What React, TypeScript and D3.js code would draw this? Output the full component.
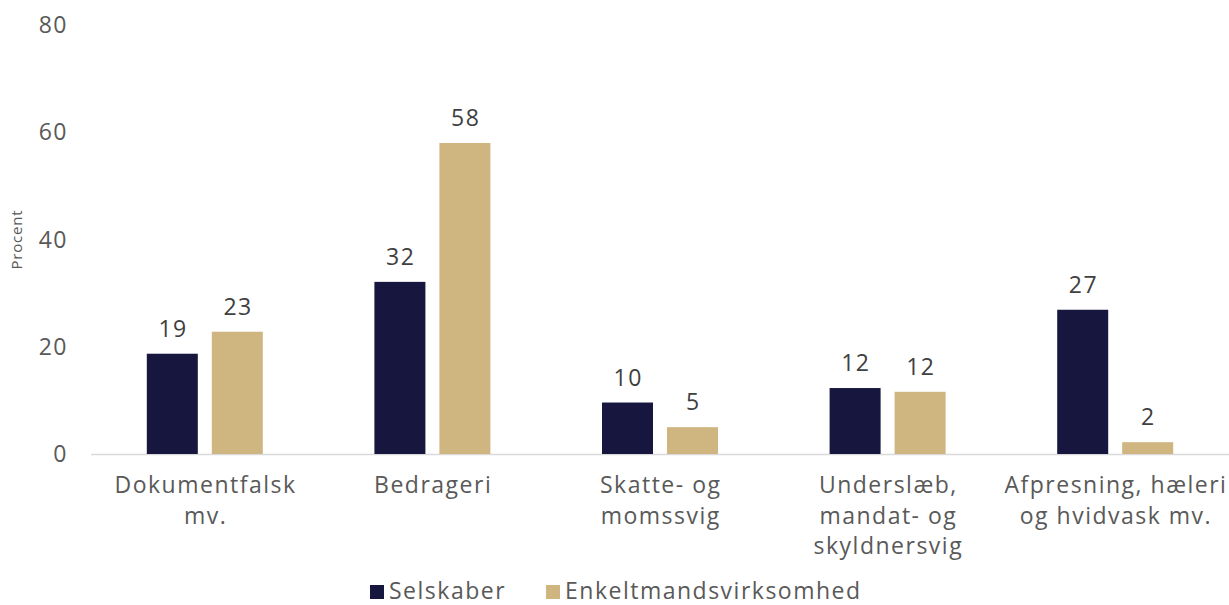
import React, { useEffect, useRef } from 'react';
import * as d3 from 'd3';

// kategorier og værdier
const categories = [
  ['Dokumentfalsk', 'mv.'],
  ['Bedrageri'],
  ['Skatte- og', 'momssvig'],
  ['Underslæb,', 'mandat- og', 'skyldnersvig'],
  ['Afpresning, hæleri', 'og hvidvask mv.'],
];
const selskaber = [18.7, 32.1, 9.6, 12.3, 26.9];
const enkeltmand = [22.8, 58.0, 5.0, 11.6, 2.2];
const seriesNames = ['Selskaber', 'Enkeltmandsvirksomhed'];
const yTicks = [0, 20, 40, 60, 80];

const colors = ['#16163F', '#CFB580'];
const textColor = '#595959';
const font = '"Open Sans", sans-serif';
const spacing = 1.5;

const App = () => {
  const ref = useRef<SVGSVGElement>(null);

  useEffect(() => {
    const width = 1229;
    const height = 605;
    const svg = d3.select(ref.current);
    svg.selectAll('*').remove();

    const x0 = d3.scaleBand<number>()
      .domain(d3.range(categories.length))
      .range([91, 1229]);
    const x1 = d3.scaleBand<number>()
      .domain([0, 1])
      .range([x0.bandwidth() / 2 - 58, x0.bandwidth() / 2 + 58])
      .paddingInner(14 / 65);
    const y = d3.scaleLinear([0, 80], [454, 25]);

    // y-akse tekster
    svg.append('g')
      .selectAll('text')
      .data(yTicks)
      .join('text')
      .attr('x', 68)
      .attr('y', d => y(d))
      .attr('dy', '0.35em')
      .attr('text-anchor', 'end')
      .attr('fill', textColor)
      .attr('font-size', 23)
      .attr('letter-spacing', spacing)
      .attr('font-family', font)
      .text(d => d);

    svg.append('text')
      .attr('transform', `translate(22,${y(40)}) rotate(-90)`)
      .attr('text-anchor', 'middle')
      .attr('fill', textColor)
      .attr('font-size', 15)
      .attr('letter-spacing', 0.8)
      .attr('font-family', font)
      .text('Procent');

    // grundlinje
    svg.append('line')
      .attr('x1', 91).attr('x2', 1229)
      .attr('y1', y(0) + 0.5).attr('y2', y(0) + 0.5)
      .attr('stroke', '#d9d9d9')
      .attr('stroke-width', 1.5);

    const data = [selskaber, enkeltmand];

    const groups = svg.append('g')
      .selectAll('g')
      .data(categories.map((_, i) => i))
      .join('g')
      .attr('transform', i => `translate(${x0(i)},0)`);

    groups.selectAll('rect')
      .data(i => data.map((s, k) => ({ k, v: s[i] })))
      .join('rect')
      .attr('x', d => x1(d.k)!)
      .attr('width', x1.bandwidth())
      .attr('y', d => y(d.v))
      .attr('height', d => y(0) - y(d.v))
      .attr('fill', d => colors[d.k]);

    groups.selectAll('text.val')
      .data(i => data.map((s, k) => ({ k, v: s[i] })))
      .join('text')
      .attr('class', 'val')
      .attr('x', d => x1(d.k)! + x1.bandwidth() / 2 + spacing / 2)
      .attr('y', d => y(d.v) - 17)
      .attr('text-anchor', 'middle')
      .attr('fill', '#404040')
      .attr('font-size', 23)
      .attr('letter-spacing', spacing)
      .attr('font-family', font)
      .text(d => Math.round(d.v));

    // kategoritekster
    groups.append('text')
      .attr('text-anchor', 'middle')
      .attr('fill', textColor)
      .attr('font-size', 23)
      .attr('letter-spacing', spacing)
      .attr('font-family', font)
      .selectAll('tspan')
      .data(i => categories[i])
      .join('tspan')
      .attr('x', x0.bandwidth() / 2 + spacing / 2)
      .attr('y', (_, j) => 493 + j * 30.5)
      .text(d => d);

    // forklaring
    const legendX = [370, 546];
    const legend = svg.append('g')
      .selectAll('g')
      .data(seriesNames)
      .join('g')
      .attr('transform', (_, i) => `translate(${legendX[i]},585)`);
    legend.append('rect')
      .attr('width', 14).attr('height', 14)
      .attr('fill', (_, i) => colors[i]);
    legend.append('text')
      .attr('x', 19)
      .attr('y', 14)
      .attr('fill', textColor)
      .attr('font-size', 23)
      .attr('letter-spacing', spacing)
      .attr('font-family', font)
      .text(d => d);

    svg.attr('viewBox', [0, 0, width, height]);
  }, []);

  return (
    <svg
      ref={ref}
      width={1229}
      height={605}
      style={{ position: 'fixed', left: 0, top: 0, background: '#fff' }}
    />
  );
};

export default App;
